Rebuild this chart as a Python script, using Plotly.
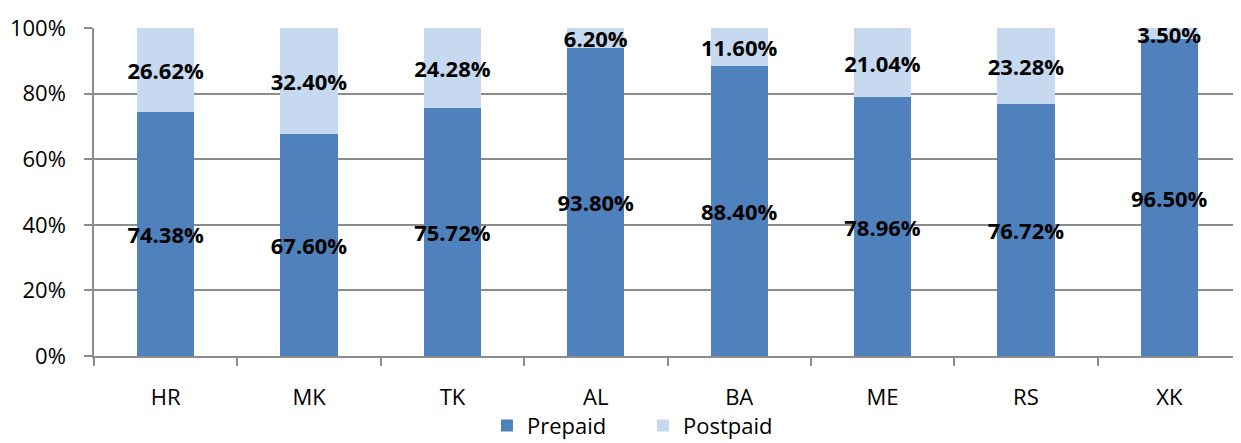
import plotly.graph_objects as go

categories = ["HR", "MK", "TK", "AL", "BA", "ME", "RS", "XK"]
prepaid = [74.38, 67.60, 75.72, 93.80, 88.40, 78.96, 76.72, 96.50]
postpaid = [26.62, 32.40, 24.28, 6.20, 11.60, 21.04, 23.28, 3.50]
y_ticks = [0, 20, 40, 60, 80, 100]
y_tick_text = [f"{v}%" for v in y_ticks]

FONT = "Open Sans"
label_font = dict(family=FONT, size=22, color="black")

# the axis stops at 100%, so the stacked top segment is clipped there
postpaid_shown = [min(p, 100 - q) for p, q in zip(postpaid, prepaid)]

fig = go.Figure()
for name, vals, labels, color in [
    ("Prepaid", prepaid, prepaid, "#4F81BD"),
    ("Postpaid", postpaid_shown, postpaid, "#C6D9F1"),
]:
    fig.add_trace(go.Bar(
        x=categories, y=vals, name=name,
        marker=dict(color=color, line=dict(width=0)),
        text=[f"<b>{v:.2f}%</b>" for v in labels],
        textposition="inside", insidetextanchor="middle",
        textangle=0, constraintext="none", cliponaxis=False,
        textfont=label_font, insidetextfont=label_font,
        hovertext=[f"{v:.2f}%" for v in labels], hoverinfo="x+name+text",
    ))

# page body has an 8px default margin, so the figure is 8px smaller
fig.update_layout(
    barmode="stack", bargap=0.6,
    width=1233, height=435,
    margin=dict(l=86, r=0, t=20, b=87, autoexpand=False),
    plot_bgcolor="white", paper_bgcolor="white",
    font=dict(family=FONT, size=22, color="black"),
    showlegend=True,
    legend=dict(orientation="h", xref="paper", x=0.3426, xanchor="left",
                yref="container", y=0.088, yanchor="top",
                font=dict(family=FONT, size=22, color="black"),
                entrywidth=111, entrywidthmode="pixels", traceorder="normal"),
)
fig.update_yaxes(range=[0, 100], tickmode="array", tickvals=y_ticks, ticktext=y_tick_text,
                 showgrid=True, gridcolor="#8c8c8c", gridwidth=1.5,
                 showline=True, linecolor="#8c8c8c", linewidth=1.5,
                 ticks="outside", ticklen=8, tickcolor="#8c8c8c", tickwidth=1.5,
                 ticklabelstandoff=14, automargin=False,
                 zeroline=False, tickfont=dict(family=FONT, size=22, color="black"))
fig.update_xaxes(showline=True, linecolor="#8c8c8c", linewidth=1.5,
                 ticks="outside", ticklen=8, tickcolor="#8c8c8c", tickwidth=1.5,
                 tickson="boundaries", showgrid=False, automargin=False,
                 ticklabelstandoff=21,
                 tickfont=dict(family=FONT, size=22, color="black"))

fig.write_html("out.html")
